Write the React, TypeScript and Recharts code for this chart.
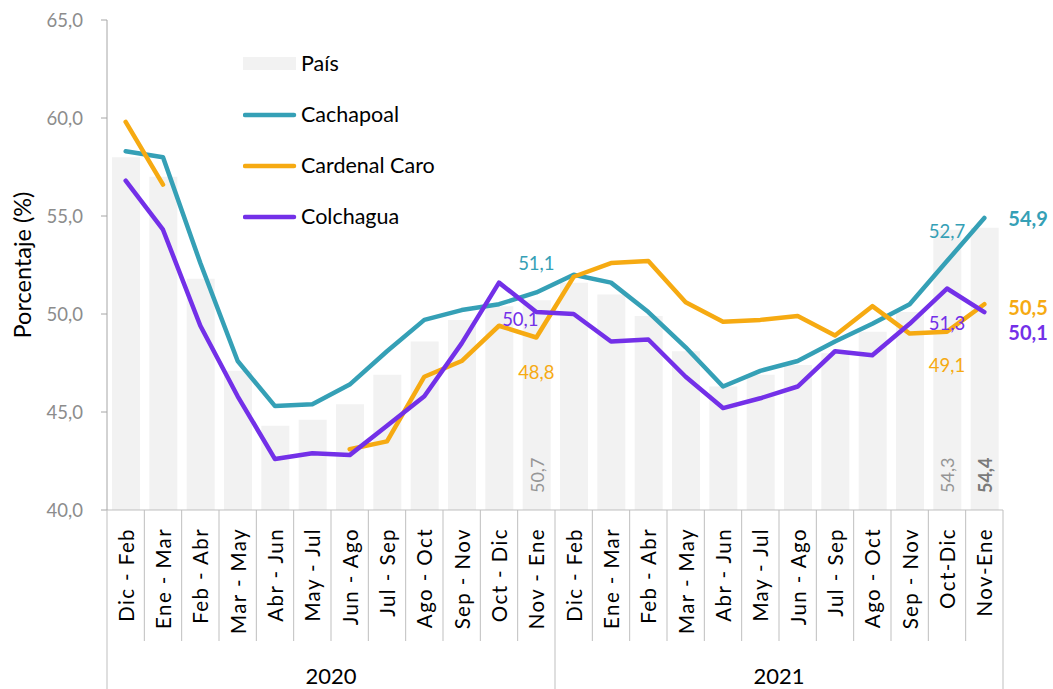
import React from 'react';
import { ComposedChart, Bar, Line, XAxis, YAxis, LabelList } from 'recharts';

const periods = [
  'Dic - Feb', 'Ene - Mar', 'Feb - Abr', 'Mar - May', 'Abr - Jun', 'May - Jul',
  'Jun - Ago', 'Jul - Sep', 'Ago - Oct', 'Sep - Nov', 'Oct - Dic', 'Nov - Ene',
  'Dic - Feb', 'Ene - Mar', 'Feb - Abr', 'Mar - May', 'Abr - Jun', 'May - Jul',
  'Jun - Ago', 'Jul - Sep', 'Ago - Oct', 'Sep - Nov', 'Oct-Dic', 'Nov-Ene',
];
const years = ['2020', '2021'];

const pais = [58.0, 57.0, 51.8, 47.1, 44.3, 44.6, 45.4, 46.9, 48.6, 49.7, 50.4, 50.7,
  51.6, 51.0, 49.9, 48.1, 46.3, 46.9, 47.4, 48.0, 49.1, 50.1, 54.3, 54.4];
const cachapoal = [58.3, 58.0, 52.6, 47.6, 45.3, 45.4, 46.4, 48.1, 49.7, 50.2, 50.5, 51.1,
  52.0, 51.6, 50.1, 48.3, 46.3, 47.1, 47.6, 48.6, 49.5, 50.5, 52.7, 54.9];
const cardenalCaro = [59.8, 56.6, null, null, null, null, 43.1, 43.5, 46.8, 47.6, 49.4, 48.8,
  51.9, 52.6, 52.7, 50.6, 49.6, 49.7, 49.9, 48.9, 50.4, 49.0, 49.1, 50.5];
const colchagua = [56.8, 54.3, 49.4, 45.8, 42.6, 42.9, 42.8, 44.3, 45.8, 48.5, 51.6, 50.1,
  50.0, 48.6, 48.7, 46.8, 45.2, 45.7, 46.3, 48.1, 47.9, 49.5, 51.3, 50.1];

const yTicks = [40, 45, 50, 55, 60, 65];

const FONT = 'Lato, "Open Sans", sans-serif';
const C_PAIS = '#f2f2f2';
const C_TEAL = '#35a0b6';
const C_ORANGE = '#f6aa12';
const C_PURPLE = '#7330e8';

const data = periods.map((period, i) => ({
  period,
  pais: pais[i],
  cachapoal: cachapoal[i],
  cardenalCaro: cardenalCaro[i],
  colchagua: colchagua[i],
}));

const fmt = (v: number) => v.toFixed(1).replace('.', ',');

type Spot = { dx: number; dy: number; end?: boolean };

// which points get a value label, and where it sits relative to the point
const tealSpots: Record<number, Spot> = { 11: { dx: 0, dy: -29 }, 22: { dx: 0, dy: -30 }, 23: { dx: 24, dy: 0, end: true } };
const orangeSpots: Record<number, Spot> = { 11: { dx: 0, dy: 34 }, 22: { dx: 0, dy: 33 }, 23: { dx: 24, dy: 3, end: true } };
const purpleSpots: Record<number, Spot> = { 11: { dx: -16, dy: 7 }, 22: { dx: 0, dy: 34 }, 23: { dx: 24, dy: 20, end: true } };
const paisSpots = [11, 22, 23];

const lineLabel = (color: string, spots: Record<number, Spot>) => (props: any) => {
  const { x, y, value, index } = props;
  const s = spots[index];
  if (!s || value == null) return null;
  return (
    <text
      x={x + s.dx}
      y={y + s.dy}
      fill={color}
      fontFamily={FONT}
      fontSize={s.end ? 20 : 18.5}
      fontWeight={s.end ? 700 : 400}
      textAnchor={s.end ? 'start' : 'middle'}
      dominantBaseline="central"
    >
      {fmt(value)}
    </text>
  );
};

const barLabel = (props: any) => {
  const { x, y, width, height, value, index } = props;
  if (!paisSpots.includes(index)) return null;
  const last = index === periods.length - 1;
  const cx = x + width / 2;
  const by = y + height - 17;
  return (
    <text
      x={cx}
      y={by}
      transform={`rotate(-90 ${cx} ${by})`}
      fill={last ? '#7a7a7a' : '#959595'}
      fontFamily={FONT}
      fontSize={18}
      fontWeight={last ? 700 : 400}
      textAnchor="start"
      dominantBaseline="central"
    >
      {fmt(value)}
    </text>
  );
};

const CategoryTick = (props: any) => {
  const { x, y, payload, index } = props;
  const half = payload.offset || 18.67;
  const groupEnd = (index + 1) % 12 === 0;
  return (
    <g>
      <text
        x={x}
        y={y + 18}
        transform={`rotate(-90 ${x} ${y + 18})`}
        textAnchor="end"
        dominantBaseline="central"
        fontFamily={FONT}
        fontSize={20.5}
        letterSpacing={1.4}
        fill="#000"
      >
        {payload.value}
      </text>
      <line x1={x + half} x2={x + half} y1={y} y2={groupEnd ? y + 179 : y + 131} stroke="#bfbfbf" />
      {index === 0 && <line x1={x - half} x2={x - half} y1={y} y2={y + 179} stroke="#bfbfbf" />}
      {index % 12 === 5 && (
        <text x={x + half} y={y + 165} textAnchor="middle" dominantBaseline="central" fontFamily={FONT} fontSize={22} fill="#000">
          {years[Math.floor(index / 12)]}
        </text>
      )}
    </g>
  );
};

const legendItems = [
  { name: 'País', color: C_PAIS, bar: true },
  { name: 'Cachapoal', color: C_TEAL },
  { name: 'Cardenal Caro', color: C_ORANGE },
  { name: 'Colchagua', color: C_PURPLE },
];

const App: React.FC = () => (
  <div style={{ position: 'absolute', left: 0, top: 0, width: 1053, height: 689, background: '#fff', fontFamily: FONT }}>
    <ComposedChart width={1053} height={689} data={data} margin={{ top: 20, right: 50, bottom: 0, left: 0 }}>
      <XAxis
        dataKey="period"
        height={179}
        interval={0}
        tickLine={false}
        tickSize={0}
        tickMargin={0}
        axisLine={{ stroke: '#bfbfbf' }}
        tick={<CategoryTick />}
      />
      <YAxis
        width={107}
        domain={[40, 65]}
        ticks={yTicks}
        tickFormatter={fmt}
        tickSize={6}
        tickMargin={18}
        axisLine={{ stroke: '#a6a6a6' }}
        tickLine={{ stroke: '#a6a6a6' }}
        tick={{ fill: '#8c8c8c', fontSize: 18.5, fontFamily: FONT }}
        label={{ value: 'Porcentaje (%)', angle: -90, position: 'center', dx: -31, fill: '#000', fontSize: 23.5, fontFamily: FONT }}
      />
      <Bar dataKey="pais" name="País" fill={C_PAIS} barSize={28} isAnimationActive={false}>
        <LabelList dataKey="pais" content={barLabel} />
      </Bar>
      <Line dataKey="cachapoal" name="Cachapoal" stroke={C_TEAL} strokeWidth={4.5} strokeLinecap="round" strokeLinejoin="round" dot={false} isAnimationActive={false}>
        <LabelList dataKey="cachapoal" content={lineLabel(C_TEAL, tealSpots)} />
      </Line>
      <Line dataKey="cardenalCaro" name="Cardenal Caro" stroke={C_ORANGE} strokeWidth={4.5} strokeLinecap="round" strokeLinejoin="round" dot={false} isAnimationActive={false}>
        <LabelList dataKey="cardenalCaro" content={lineLabel(C_ORANGE, orangeSpots)} />
      </Line>
      <Line dataKey="colchagua" name="Colchagua" stroke={C_PURPLE} strokeWidth={4.5} strokeLinecap="round" strokeLinejoin="round" dot={false} isAnimationActive={false}>
        <LabelList dataKey="colchagua" content={lineLabel(C_PURPLE, purpleSpots)} />
      </Line>
    </ComposedChart>
    <div style={{ position: 'absolute', left: 243, top: 38 }}>
      {legendItems.map((it) => (
        <div key={it.name} style={{ display: 'flex', alignItems: 'center', height: 51 }}>
          <svg width={58} height={20}>
            {it.bar ? (
              <rect x={0} y={3} width={53} height={13} fill={it.color} />
            ) : (
              <line x1={2} x2={51} y1={10} y2={10} stroke={it.color} strokeWidth={4.5} strokeLinecap="round" />
            )}
          </svg>
          <span style={{ fontSize: 21.5, color: '#000', lineHeight: 1 }}>{it.name}</span>
        </div>
      ))}
    </div>
  </div>
);

export default App;
